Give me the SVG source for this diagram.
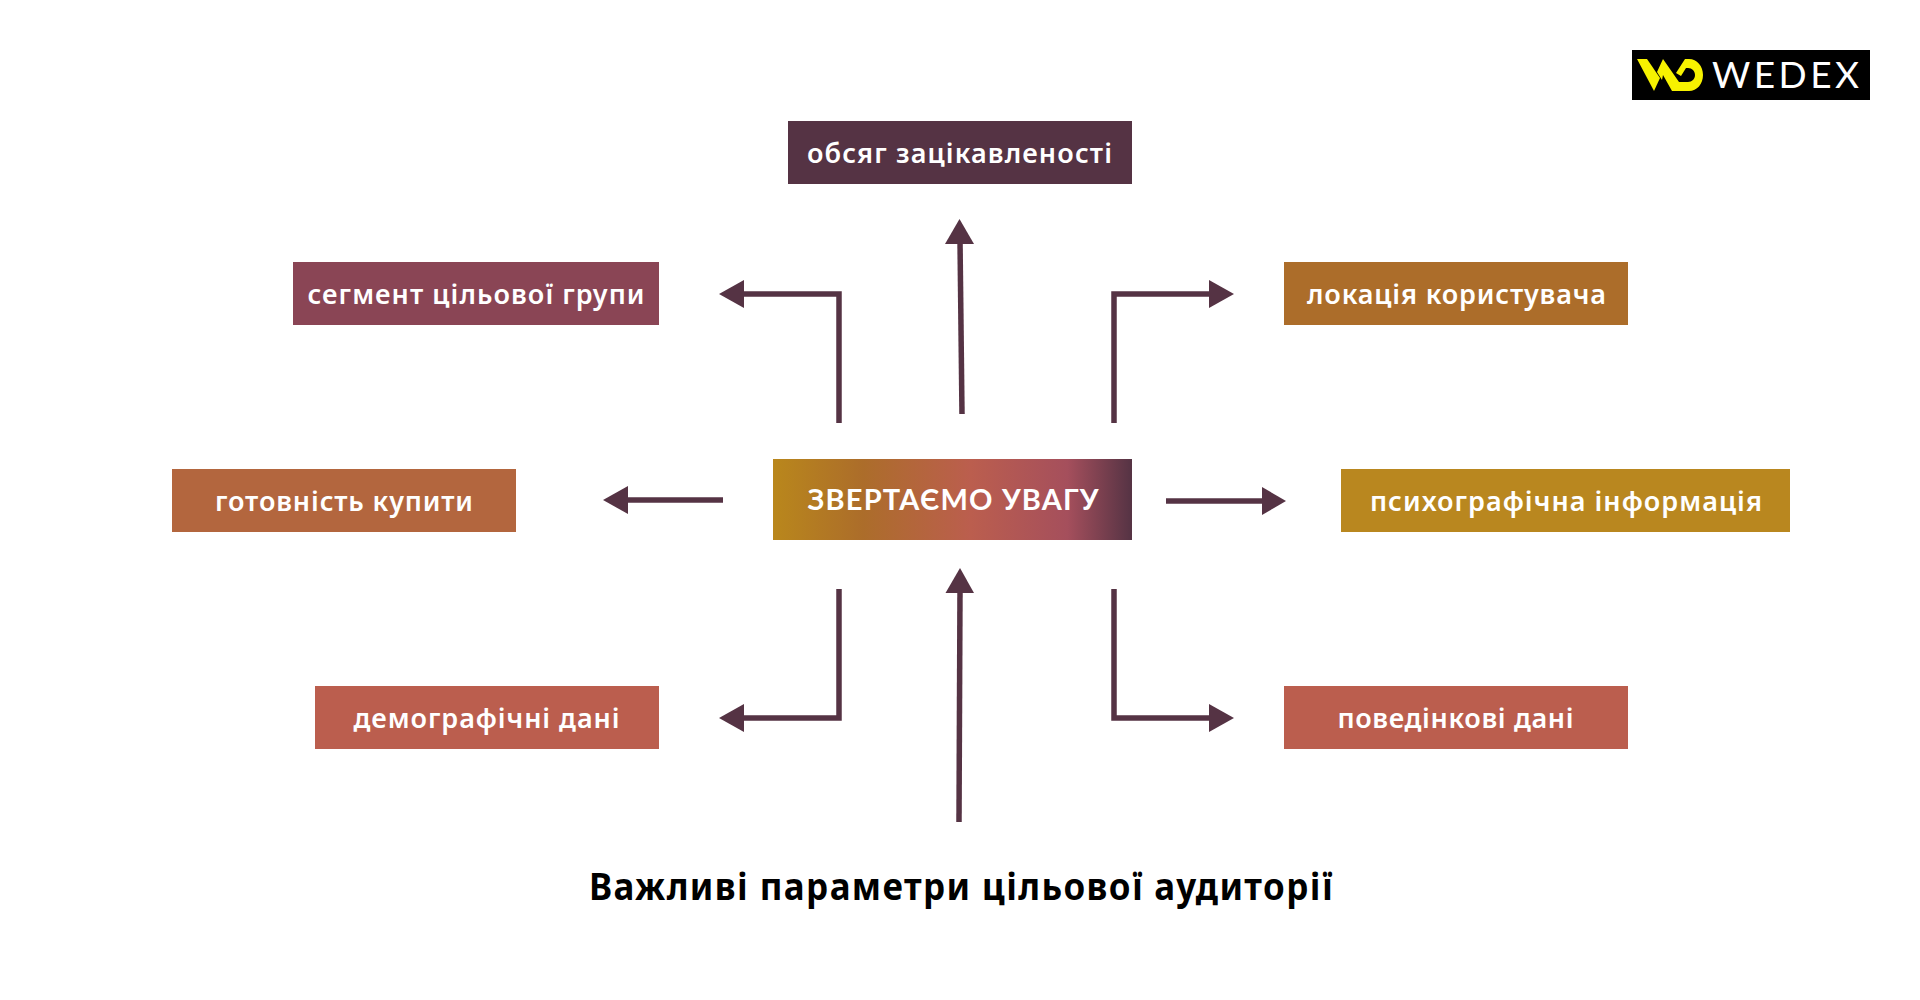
<svg xmlns="http://www.w3.org/2000/svg" width="1920" height="1000" viewBox="0 0 1920 1000">
<style>
.n{font-family:"Noto Sans","Open Sans",sans-serif;font-weight:600;font-size:27px;fill:#fff}
.c{font-family:"Lato","Noto Sans",sans-serif;font-weight:700;font-size:29px;fill:#fff}
.t{font-family:"Noto Sans","Open Sans",sans-serif;font-weight:700;font-size:38px;fill:#000}
.l{fill:none;stroke:#553344;stroke-width:5.500}
.h{fill:#553344}
</style>
<defs>
<linearGradient id="g" x1="0" y1="0" x2="1" y2="0">
<stop offset="0" stop-color="#b9871c"/><stop offset="0.25" stop-color="#ac6d2a"/><stop offset="0.55" stop-color="#bb5e4e"/><stop offset="0.82" stop-color="#a54f5c"/><stop offset="1" stop-color="#553344"/>
</linearGradient>
</defs>
<rect width="1920" height="1000" fill="#fff"/>
<g id="connectors">
<path class="l" d="M839 423V294H740"/><polygon class="h" points="719,294 744,280 744,308"/>
<path class="l" d="M962 414L960 240"/><polygon class="h" points="959.500,219 945,244 974,244"/>
<path class="l" d="M1114 423V294H1212"/><polygon class="h" points="1234,294 1209,280 1209,308"/>
<path class="l" d="M723 500H625"/><polygon class="h" points="603,500 628,486 628,514"/>
<path class="l" d="M1166 501H1265"/><polygon class="h" points="1286,501 1262,487 1262,515"/>
<path class="l" d="M839 589V718H740"/><polygon class="h" points="719,718 744,704 744,732"/>
<path class="l" d="M1114 589V718H1212"/><polygon class="h" points="1234,718 1209,704 1209,732"/>
<path class="l" d="M959 822L960 590"/><polygon class="h" points="960,568 945.500,593 974,593"/>
</g>
<g id="n-interest"><rect x="788" y="121" width="344" height="63" fill="#553344"/><text class="n" x="807" y="163" textLength="305" lengthAdjust="spacing">обсяг зацікавленості</text></g>
<g id="n-segment"><rect x="293" y="262" width="366" height="63" fill="#8a4555"/><text class="n" x="307.500" y="304" textLength="337" lengthAdjust="spacing">сегмент цільової групи</text></g>
<g id="n-location"><rect x="1284" y="262" width="344" height="63" fill="#ac6d2a"/><text class="n" x="1307" y="304" textLength="299" lengthAdjust="spacing">локація користувача</text></g>
<g id="n-ready"><rect x="172" y="469" width="344" height="63" fill="#b3663e"/><text class="n" x="215" y="511" textLength="258" lengthAdjust="spacing">готовність купити</text></g>
<g id="n-center"><rect x="773" y="459" width="359" height="81" fill="url(#g)"/><text class="c" x="807.500" y="510" textLength="291" lengthAdjust="spacing">ЗВЕРТАЄМО УВАГУ</text></g>
<g id="n-psycho"><rect x="1341" y="469" width="449" height="63" fill="#b9871f"/><text class="n" x="1370" y="511" textLength="392" lengthAdjust="spacing">психографічна інформація</text></g>
<g id="n-demo"><rect x="315" y="686" width="344" height="63" fill="#bb5e4e"/><text class="n" x="353.500" y="728" textLength="266" lengthAdjust="spacing">демографічні дані</text></g>
<g id="n-behavior"><rect x="1284" y="686" width="344" height="63" fill="#bb5e4e"/><text class="n" x="1337.500" y="728" textLength="236" lengthAdjust="spacing">поведінкові дані</text></g>
<g id="title"><text class="t" transform="translate(589 900) scale(0.92 1)" textLength="808" lengthAdjust="spacing">Важливі параметри цільової аудиторії</text></g>
<g id="logo">
<rect x="1632" y="50" width="238" height="50" fill="#000"/>
<path d="M1637 59H1647L1660 78L1654 91Z" fill="#f7f200"/>
<path d="M1657 72L1663 59L1679 82H1688C1692 82 1695 79 1695 75C1695 71 1692 68 1688 68H1686L1681 76L1676 73L1685 59H1689C1697 59 1703 66 1703 75C1703 84 1697 91 1689 91H1672L1663 75L1662 80Z" fill="#f7f200"/>
<text x="1712" y="88" font-family="Lato,'Noto Sans',sans-serif" font-weight="400" font-size="37" fill="#fff" textLength="147" lengthAdjust="spacing">WEDEX</text>
</g>
</svg>
